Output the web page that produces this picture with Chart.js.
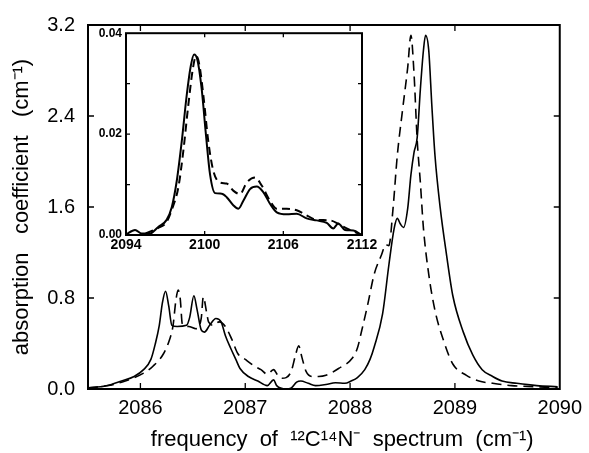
<!DOCTYPE html>
<html>
<head>
<meta charset="utf-8">
<script src="https://cdn.jsdelivr.net/npm/chart.js@4"></script>
<style>
  html, body { margin: 0; padding: 0; background: #fff; }
  #wrap { position: relative; width: 589px; height: 453px; }
  #mainChart { position: absolute; left: 0; top: 0; }
  #insetChart { position: absolute; left: 86px; top: 22px; }
</style>
</head>
<body>
<div id="wrap">
  <canvas id="mainChart" width="589" height="453"></canvas>
  <canvas id="insetChart" width="300" height="234"></canvas>
</div>
<script>
// main panel: 12C14N- band, frequency (cm-1) vs absorption (cm-1)
const solidFreq = [2085.50, 2085.62, 2085.69, 2085.82, 2085.94, 2086.03, 2086.10, 2086.14, 2086.18, 2086.21,
  2086.24, 2086.27, 2086.30, 2086.35, 2086.44, 2086.47, 2086.51, 2086.54, 2086.58, 2086.61,
  2086.66, 2086.72, 2086.77, 2086.81, 2086.86, 2086.91, 2086.95, 2087.03, 2087.12, 2087.21,
  2087.27, 2087.30, 2087.39, 2087.44, 2087.49, 2087.53, 2087.60, 2087.67, 2087.77, 2087.86,
  2087.95, 2088.01, 2088.07, 2088.14, 2088.19, 2088.23, 2088.31, 2088.37, 2088.42, 2088.45,
  2088.48, 2088.51, 2088.55, 2088.58, 2088.61, 2088.64, 2088.67, 2088.70, 2088.72, 2088.75,
  2088.78, 2088.81, 2088.86, 2088.92, 2088.98, 2089.08, 2089.17, 2089.26, 2089.36, 2089.45,
  2089.59, 2089.78, 2089.98];
const solidAbs = [0.01, 0.02, 0.03, 0.07, 0.11, 0.17, 0.26, 0.39, 0.56, 0.76,
  0.86, 0.73, 0.56, 0.55, 0.56, 0.63, 0.82, 0.70, 0.52, 0.50,
  0.56, 0.62, 0.59, 0.47, 0.36, 0.26, 0.18, 0.11, 0.07, 0.03,
  0.08, 0.03, 0.00, 0.01, 0.06, 0.07, 0.05, 0.03, 0.04, 0.055,
  0.05, 0.07, 0.10, 0.17, 0.26, 0.37, 0.66, 1.09, 1.41, 1.50,
  1.45, 1.42, 1.59, 1.88, 2.08, 2.21, 2.63, 2.98, 3.11, 2.98,
  2.49, 2.05, 1.59, 1.18, 0.82, 0.50, 0.30, 0.17, 0.11, 0.07,
  0.05, 0.03, 0.02];

const dashedFreq = [2085.50, 2085.69, 2085.82, 2085.94, 2086.03, 2086.12, 2086.22, 2086.28, 2086.31, 2086.34,
  2086.36, 2086.38, 2086.40, 2086.46, 2086.53, 2086.58, 2086.60, 2086.63, 2086.65, 2086.70,
  2086.75, 2086.81, 2086.87, 2086.93, 2087.00, 2087.09, 2087.15, 2087.21, 2087.27, 2087.31,
  2087.35, 2087.39, 2087.44, 2087.48, 2087.51, 2087.54, 2087.58, 2087.64, 2087.70, 2087.77,
  2087.89, 2088.02, 2088.07, 2088.11, 2088.17, 2088.23, 2088.30, 2088.34, 2088.37, 2088.41,
  2088.45, 2088.50, 2088.55, 2088.58, 2088.61, 2088.64, 2088.67, 2088.70, 2088.75, 2088.81,
  2088.89, 2088.98, 2089.11, 2089.23, 2089.36, 2089.54, 2089.78, 2089.98];
const dashedAbs = [0.01, 0.03, 0.06, 0.10, 0.14, 0.20, 0.31, 0.44, 0.55, 0.79,
  0.87, 0.79, 0.57, 0.55, 0.53, 0.62, 0.81, 0.68, 0.59, 0.56,
  0.59, 0.55, 0.44, 0.31, 0.26, 0.20, 0.17, 0.13, 0.17, 0.12,
  0.095, 0.10, 0.16, 0.30, 0.38, 0.28, 0.155, 0.11, 0.11, 0.12,
  0.18, 0.27, 0.36, 0.51, 0.75, 1.01, 1.18, 1.27, 1.26, 1.59,
  2.05, 2.45, 2.83, 3.11, 2.77, 2.19, 1.82, 1.41, 1.01, 0.69,
  0.43, 0.22, 0.12, 0.07, 0.05, 0.03, 0.02, 0.01];

const xTicks = [2086, 2087, 2088, 2089, 2090];
const yTicks = [0, 0.8, 1.6, 2.4, 3.2];

// inset: 2094-2112 cm-1
const insetSolidFreq = [2094.00, 2094.69, 2095.20, 2095.83, 2096.46, 2097.10, 2097.49, 2097.87, 2098.25, 2098.63,
  2098.94, 2099.19, 2099.44, 2099.77, 2100.10, 2100.41, 2100.79, 2101.30, 2101.68, 2102.18,
  2102.57, 2102.95, 2103.46, 2103.97, 2104.47, 2104.98, 2105.50, 2106.26, 2107.02, 2107.78,
  2108.55, 2109.31, 2109.81, 2110.19, 2110.70, 2111.34, 2111.98];
const insetSolidAbs = [0.0001, 0.0010, 0.0003, 0.0003, 0.0016, 0.0030, 0.0055, 0.0107, 0.0185, 0.0277,
  0.0335, 0.0358, 0.0348, 0.0290, 0.0198, 0.0120, 0.0083, 0.0082, 0.0075, 0.0059,
  0.0052, 0.0068, 0.0091, 0.0096, 0.0085, 0.0062, 0.0045, 0.0041, 0.0042, 0.0033,
  0.0029, 0.0024, 0.0013, 0.0023, 0.0010, 0.0009, 0.0000];

const insetDashedFreq = [2095.50, 2096.46, 2097.10, 2097.49, 2097.99, 2098.37, 2098.75, 2099.09, 2099.34, 2099.59,
  2099.90, 2100.28, 2100.66, 2101.17, 2101.68, 2102.18, 2102.70, 2103.21, 2103.84, 2104.35,
  2104.98, 2105.50, 2106.26, 2107.02, 2107.78, 2108.55, 2109.56, 2110.32, 2111.08, 2111.98];
const insetDashedAbs = [0.0003, 0.0014, 0.0026, 0.0050, 0.0094, 0.0166, 0.0257, 0.0328, 0.0355, 0.0338,
  0.0277, 0.0185, 0.0127, 0.0104, 0.0102, 0.0088, 0.0081, 0.0104, 0.0114, 0.0098,
  0.0068, 0.0052, 0.0052, 0.0049, 0.0039, 0.0030, 0.0029, 0.0020, 0.0010, 0.0000];

const insetXTicks = [2094, 2100, 2106, 2112];
const insetXMarks = [2100, 2106];
const insetYTicks = [0, 0.02, 0.04];
const insetYMarks = [0.01, 0.02, 0.03];

const FONT = "'Liberation Sans', Arial, Helvetica, sans-serif";

const toPoints = (xs, ys) => xs.map((x, i) => ({ x: x, y: ys[i] }));

// box round the plot area plus short inward tick marks on all four sides
const framePlugin = {
  id: "frame",
  afterDraw(chart, args, opts) {
    const { ctx, chartArea: a, scales } = chart;
    ctx.save();
    ctx.strokeStyle = "#000";
    ctx.lineWidth = opts.width;
    ctx.strokeRect(a.left, a.top, a.right - a.left, a.bottom - a.top);
    ctx.lineWidth = 1.3;
    ctx.beginPath();
    opts.xMarks.forEach(v => {
      const px = scales.x.getPixelForValue(v);
      ctx.moveTo(px, a.bottom); ctx.lineTo(px, a.bottom - opts.len);
      ctx.moveTo(px, a.top); ctx.lineTo(px, a.top + opts.len);
    });
    opts.yMarks.forEach(v => {
      const py = scales.y.getPixelForValue(v);
      ctx.moveTo(a.left, py); ctx.lineTo(a.left + opts.len, py);
      ctx.moveTo(a.right, py); ctx.lineTo(a.right - opts.len, py);
    });
    ctx.stroke();
    ctx.restore();
  }
};

function lineSet(points, dashed, width, dash) {
  return {
    data: points,
    borderColor: "#000",
    borderWidth: width,
    borderDash: dashed ? dash : [],
    pointRadius: 0,
    fill: false,
    cubicInterpolationMode: "monotone",
  };
}

new Chart(document.getElementById("mainChart").getContext("2d"), {
  type: "line",
  data: {
    datasets: [
      lineSet(toPoints(solidFreq, solidAbs), false, 1.6),
      lineSet(toPoints(dashedFreq, dashedAbs), true, 1.6, [10, 6]),
    ],
  },
  options: {
    responsive: false,
    animation: false,
    layout: { padding: { top: 21, right: 22, left: 0, bottom: 0 } },
    plugins: {
      legend: { display: false },
      tooltip: { enabled: false },
      frame: { width: 2, len: 6, xMarks: [2086, 2087, 2088, 2089], yMarks: [0.8, 1.6, 2.4] },
    },
    scales: {
      x: {
        type: "linear",
        min: 2085.5,
        max: 2090,
        afterBuildTicks: s => { s.ticks = xTicks.map(v => ({ value: v })); },
        afterFit: s => { s.height = 64; },
        grid: { display: false, drawTicks: false },
        border: { display: false },
        ticks: { color: "#000", font: { family: FONT, size: 20 }, padding: 7, maxRotation: 0, autoSkip: false,
          callback: v => String(v) },
        title: {
          display: true,
          text: "      frequency  of  \u00b9\u00b2C\u00b9\u2074N\u207b  spectrum  (cm\u207b\u00b9)",
          color: "#000",
          font: { family: FONT, size: 22 },
          padding: { top: 0, bottom: 0 },
        },
      },
      y: {
        min: 0,
        max: 3.2,
        afterBuildTicks: s => { s.ticks = yTicks.map(v => ({ value: v })); },
        afterFit: s => { s.width = 88; },
        grid: { display: false, drawTicks: false },
        border: { display: false },
        ticks: { color: "#000", font: { family: FONT, size: 20 }, padding: 13, callback: v => v.toFixed(1) },
        title: {
          display: true,
          text: "absorption   coefficient   (cm\u207b\u00b9)",
          color: "#000",
          font: { family: FONT, size: 22 },
          padding: { top: 9, bottom: 0 },
        },
      },
    },
  },
  plugins: [framePlugin],
});

new Chart(document.getElementById("insetChart").getContext("2d"), {
  type: "line",
  data: {
    datasets: [
      lineSet(toPoints(insetSolidFreq, insetSolidAbs), false, 2),
      lineSet(toPoints(insetDashedFreq, insetDashedAbs), true, 2, [8, 5]),
    ],
  },
  options: {
    responsive: false,
    animation: false,
    layout: { padding: { top: 8, right: 24, left: 0, bottom: 0 } },
    plugins: {
      legend: { display: false },
      tooltip: { enabled: false },
      frame: { width: 2, len: 4, xMarks: insetXMarks, yMarks: insetYMarks },
    },
    scales: {
      x: {
        type: "linear",
        min: 2094,
        max: 2112,
        afterBuildTicks: s => { s.ticks = insetXTicks.map(v => ({ value: v })); },
        afterFit: s => { s.height = 21; },
        grid: { display: false, drawTicks: false },
        border: { display: false },
        ticks: { color: "#000", font: { family: FONT, size: 14, weight: "bold" }, padding: 2, maxRotation: 0, autoSkip: false,
          callback: v => String(v) },
      },
      y: {
        min: 0,
        max: 0.04,
        afterBuildTicks: s => { s.ticks = insetYTicks.map(v => ({ value: v })); },
        afterFit: s => { s.width = 40; },
        grid: { display: false, drawTicks: false },
        border: { display: false },
        ticks: { color: "#000", font: { family: FONT, size: 12, weight: "bold" }, padding: 4, callback: v => v.toFixed(2) },
      },
    },
  },
  plugins: [framePlugin],
});
</script>
</body>
</html>
